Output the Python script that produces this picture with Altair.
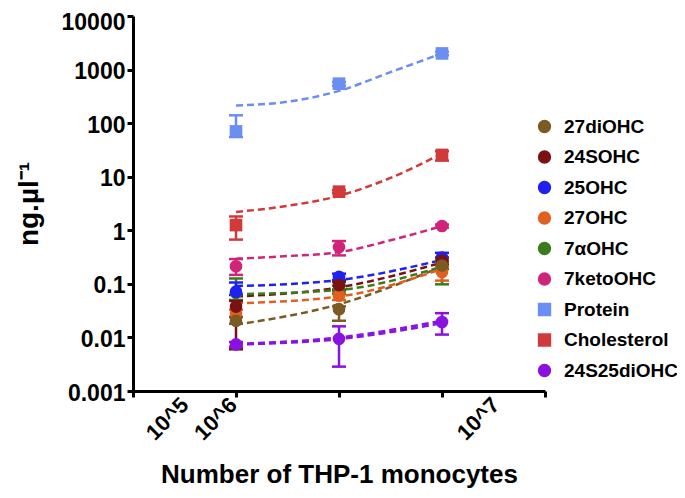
import altair as alt
import pandas as pd

# ---------------- data ----------------
series_names = ["27diOHC", "24SOHC", "25OHC", "27OHC", "7αOHC",
                "7ketoOHC", "Protein", "Cholesterol", "24S25diOHC"]
series_colors = ["#7b5a24", "#7a1214", "#2020f0", "#e0601f", "#3c7a1e",
                 "#d0247a", "#6b8ef2", "#d03a3a", "#8a12e0"]
series_shapes = ["circle", "circle", "circle", "circle", "circle",
                 "circle", "square", "square", "circle"]

cell_pos = [1, 2, 3]          # positions of 10^6 ... 10^7 groups on the axis

# means
m_27di = [0.0205, 0.0337, 0.22]
m_24S = [0.0377, 0.095, 0.27]
m_25 = [0.0714, 0.135, 0.31]
m_27 = [0.028, 0.060, 0.167]
m_7a = [0.068, 0.078, 0.21]
m_7k = [0.213, 0.485, 1.2]
m_prot = [70, 545, 2000]
m_chol = [1.25, 5.26, 25.5]
m_di = [0.0074, 0.0094, 0.0194]

# error bar low / high
lo_27di = [0.018, 0.0205, 0.19]
hi_27di = [0.024, 0.038, 0.25]
lo_24S = [0.006, 0.078, 0.23]
hi_24S = [0.048, 0.11, 0.31]
lo_25 = [0.062, 0.118, 0.27]
hi_25 = [0.106, 0.155, 0.38]
lo_27 = [0.024, 0.050, 0.115]
hi_27 = [0.033, 0.070, 0.21]
lo_7a = [0.050, 0.065, 0.098]
hi_7a = [0.126, 0.092, 0.28]
lo_7k = [0.147, 0.34, 1.12]
hi_7k = [0.29, 0.63, 1.28]
lo_prot = [55, 500, 1850]
hi_prot = [140, 590, 2150]
lo_chol = [0.67, 4.9, 20]
hi_chol = [1.81, 5.6, 30]
lo_di = [0.0067, 0.00285, 0.0113]
hi_di = [0.0082, 0.0161, 0.0284]

# fitted (dashed) curves
fit3_pos = [1, 2, 3]
fit5_pos = [1, 1.5, 2, 2.5, 3]
fit_27di = [0.0173, 0.0417, 0.21]
fit_24S = [0.058, 0.086, 0.25]
fit_25 = [0.091, 0.118, 0.28]
fit_27 = [0.0434, 0.058, 0.19]
fit_7a = [0.064, 0.077, 0.21]
fit_7k = [0.295, 0.33, 0.39, 0.65, 1.2]
fit_prot = [213, 251, 400, 895, 2000]
fit_chol = [2.2, 2.86, 4.4, 9.5, 27]
fit_diA = [0.0076, 0.0100, 0.0205]
fit_diB = [0.0074, 0.0093, 0.0185]

y_ticks = [0.001, 0.01, 0.1, 1, 10, 100, 1000, 10000]
x_tick_pos = [0, 1, 2, 3, 4]
x_label_pos = [0.5, 0.97, 3.52]
x_label_txt = ["10^5", "10^6", "10^7"]

# ---------------- tables ----------------
means = [m_27di, m_24S, m_25, m_27, m_7a, m_7k, m_prot, m_chol, m_di]
lows = [lo_27di, lo_24S, lo_25, lo_27, lo_7a, lo_7k, lo_prot, lo_chol, lo_di]
highs = [hi_27di, hi_24S, hi_25, hi_27, hi_7a, hi_7k, hi_prot, hi_chol, hi_di]

rows = []
for name, m, lo, hi in zip(series_names, means, lows, highs):
    for p, a, b, c in zip(cell_pos, m, lo, hi):
        rows.append({"series": name, "pos": p, "val": a, "lo": b, "hi": c})
pts = pd.DataFrame(rows)
# draw order: first legend item on top
pts["ord"] = pts["series"].map({n: -i for i, n in enumerate(series_names)})
pts = pts.sort_values("ord")

fits = [("27diOHC", "a", fit3_pos, fit_27di), ("24SOHC", "a", fit3_pos, fit_24S),
        ("25OHC", "a", fit3_pos, fit_25), ("27OHC", "a", fit3_pos, fit_27),
        ("7αOHC", "a", fit3_pos, fit_7a), ("7ketoOHC", "a", fit5_pos, fit_7k),
        ("Protein", "a", fit5_pos, fit_prot), ("Cholesterol", "a", fit5_pos, fit_chol),
        ("24S25diOHC", "a", fit3_pos, fit_diA), ("24S25diOHC", "b", fit3_pos, fit_diB)]
frows = []
for name, fid, xs, ys in fits:
    for p, v in zip(xs, ys):
        frows.append({"series": name, "fid": name + fid, "pos": p, "val": v})
fdf = pd.DataFrame(frows)

FONT = "Liberation Sans"

xscale = alt.Scale(domain=[0, 4], nice=False, zero=False)
yscale = alt.Scale(type="log", domain=[0.001, 10000], nice=False)
yaxis = alt.Axis(values=y_ticks, format="~g", labelFontSize=23, labelPadding=2,
                 labelOffset={"condition": {"test": "datum.value >= 10000", "value": 6},
                              "value": 2},
                 tickSize=6, titleFontSize=28, titlePadding=18)
legend = alt.Legend(orient="none", legendX=402, legendY=101,
                    labelFontSize=19, labelFont=FONT, labelFontWeight="bold",
                    symbolSize=140, rowPadding=10.5, labelColor="black", labelOffset=10)
cscale = alt.Scale(domain=series_names, range=series_colors)
color = alt.Color("series:N", scale=cscale, legend=legend, title=None)
shape = alt.Shape("series:N", scale=alt.Scale(domain=series_names, range=series_shapes),
                  legend=legend, title=None)

ytitle = "ng.µl⁻¹"

lines = alt.Chart(fdf).mark_line(strokeDash=[7, 4], strokeWidth=2.5,
                                 interpolate="monotone").encode(
    x=alt.X("pos:Q", scale=xscale,
            axis=alt.Axis(values=x_tick_pos, labels=False, tickSize=6, orient="bottom",
                          title=None)),
    y=alt.Y("val:Q", scale=yscale, axis=yaxis, title=ytitle),
    color=color,
    detail="fid:N",
    order="pos:Q",
)

bars = alt.Chart(pts).mark_rule(strokeWidth=2.5).encode(
    x=alt.X("pos:Q", scale=xscale, axis=None),
    y=alt.Y("lo:Q", scale=yscale, axis=yaxis, title=ytitle),
    y2="hi:Q",
    color=color,
)

cap_lo = alt.Chart(pts).mark_tick(orient="horizontal", size=14, thickness=2.5, opacity=1).encode(
    x=alt.X("pos:Q", scale=xscale, axis=None),
    y=alt.Y("lo:Q", scale=yscale, axis=yaxis, title=ytitle),
    color=color,
)
cap_hi = alt.Chart(pts).mark_tick(orient="horizontal", size=14, thickness=2.5, opacity=1).encode(
    x=alt.X("pos:Q", scale=xscale, axis=None),
    y=alt.Y("hi:Q", scale=yscale, axis=yaxis, title=ytitle),
    color=color,
)

expr = ("datum.value < 0.8 ? '" + x_label_txt[0] + "' : (datum.value < 2 ? '"
        + x_label_txt[1] + "' : '" + x_label_txt[2] + "')")

points = alt.Chart(pts).mark_point(filled=True, size=160, opacity=1).encode(
    x=alt.X("pos:Q", scale=xscale,
            axis=alt.Axis(values=x_label_pos, labelExpr=expr, ticks=False, domain=False,
                          orient="bottom", labelAngle=-45, labelAlign="right",
                          labelBaseline="middle", labelFontSize=22, labelPadding=10,
                          labelOverlap=False, titleFontSize=26, titlePadding=18),
            title="Number of THP-1 monocytes"),
    y=alt.Y("val:Q", scale=yscale, axis=yaxis, title=ytitle),
    color=color,
    shape=shape,
    order=alt.Order("ord:Q"),
)

chart = alt.layer(lines, bars, cap_lo, cap_hi, points).resolve_axis(
    x="independent"
).properties(
    width=412, height=375,
    autosize=alt.AutoSizeParams(type="none"),
    padding={"left": 125, "top": 8, "right": 132, "bottom": 99},
).configure_view(stroke=None).configure_axis(
    grid=False, domainColor="black", domainWidth=3, tickColor="black", tickWidth=3,
    labelFont=FONT, labelFontWeight="bold", labelColor="black",
    titleFont=FONT, titleFontWeight="bold", titleColor="black",
)

chart.save("out.html", embed_options={"renderer": "svg", "actions": False})
